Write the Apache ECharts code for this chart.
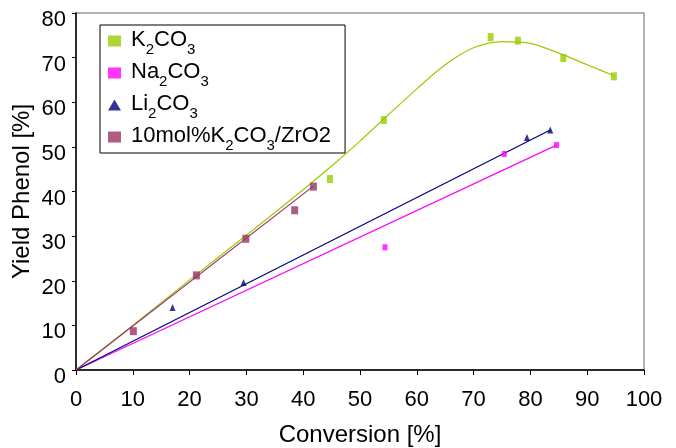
<!DOCTYPE html>
<html>
<head>
<meta charset="utf-8">
<script src="https://cdn.jsdelivr.net/npm/echarts@6/dist/echarts.min.js"></script>
<style>
  html, body { margin: 0; padding: 0; background: #fff; }
  #chart { width: 676px; height: 448px; }
</style>
</head>
<body>
<div id="chart"></div>
<script>
// measured points [conversion %, yield %]
const k2co3 = [[44.7, 42.8], [54.2, 56.0], [73.0, 74.6], [77.8, 73.8], [85.8, 69.9], [94.7, 65.8]];
const na2co3 = [[54.4, 27.5], [75.4, 48.4], [84.6, 50.4]];
const li2co3 = [[17.0, 14.0], [29.5, 19.6], [79.4, 52.1], [83.5, 53.8]];
const zro2 = [[10.1, 8.7], [21.2, 21.2], [29.9, 29.4], [38.5, 35.8], [41.8, 41.1]];

// trend lines
const k2co3Fit = [[0, 0], [10, 10], [20, 20.2], [30, 30.2], [40, 40.4], [45, 45.7], [50, 51.3],
  [55, 57.2], [60, 63], [65, 68.4], [70, 72.2], [75, 73.6], [80, 73.2], [85, 71], [90, 68.4], [94.6, 66]];
const na2co3Fit = [[0, 0], [84.6, 50.4]];
const li2co3Fit = [[0, 0], [83.5, 53.8]];
const zro2Fit = [[0, 0], [41.8, 41.2]];

const names = ['K2CO3', 'Na2CO3', 'Li2CO3', '10mol% K2CO3/ZrO2'];
const colors = ['#99cc00', '#ff00ff', '#000080', '#993366'];

const font = 'Liberation Sans, Arial, sans-serif';
const chart = echarts.init(document.getElementById('chart'));

function fitLine(data, color, smooth) {
  return {
    type: 'line', data: data, smooth: smooth, showSymbol: false, silent: true,
    lineStyle: { color: color, width: 1.2 }, z: 2
  };
}

chart.setOption({
  animation: false,
  textStyle: { fontFamily: font },
  grid: {
    left: 76, right: 32, top: 13, bottom: 78, containLabel: false, outerBoundsMode: 'none',
    show: true, borderColor: '#999', borderWidth: 1.5
  },
  legend: {
    orient: 'vertical', left: 100, top: 25,
    padding: [4, 14, 0, 8], itemGap: 4,
    itemWidth: 13, itemHeight: 11,
    borderColor: '#000', borderWidth: 1,
    data: [
      { name: names[0], icon: 'rect' },
      { name: names[1], icon: 'rect' },
      { name: names[2], icon: 'triangle' },
      { name: names[3], icon: 'rect' }
    ],
    formatter: function (n) {
      if (n === 'K2CO3') return '{f|K}{s|2}{n|CO}{s|3}';
      if (n === 'Na2CO3') return '{f|Na}{s|2}{n|CO}{s|3}';
      if (n === 'Li2CO3') return '{f|Li}{s|2}{n|CO}{s|3}';
      return '{f|10mol%}{n|K}{s|2}{n|CO}{s|3}{n|/ZrO2}';
    },
    textStyle: {
      color: '#000',
      rich: {
        f: { fontSize: 22, fontFamily: font, color: '#000', lineHeight: 24, verticalAlign: 'top', padding: [0, 0, 0, 5] },
        n: { fontSize: 22, fontFamily: font, color: '#000', lineHeight: 24, verticalAlign: 'top' },
        s: { fontSize: 15, fontFamily: font, color: '#000', lineHeight: 15, verticalAlign: 'top', padding: [13, 0, 0, 0] }
      }
    }
  },
  xAxis: {
    type: 'value', min: 0, max: 100, interval: 10,
    name: 'Conversion [%]', nameLocation: 'middle', nameGap: 53, nameMoveOverlap: false,
    nameTextStyle: { fontSize: 24, color: '#000', fontFamily: font },
    axisLine: { lineStyle: { color: '#000', width: 1.5 } },
    axisTick: { length: 5, lineStyle: { color: '#000' } },
    axisLabel: { fontSize: 22, color: '#000', margin: 19, fontFamily: font },
    splitLine: { show: false }
  },
  yAxis: {
    type: 'value', min: 0, max: 80, interval: 10,
    name: 'Yield Phenol [%]', nameLocation: 'middle', nameGap: 42, nameMoveOverlap: false,
    nameTextStyle: { fontSize: 24, color: '#000', fontFamily: font },
    axisLine: { show: true, lineStyle: { color: '#000', width: 1.5 } },
    axisTick: { show: true, length: 4, lineStyle: { color: '#000' } },
    axisLabel: { fontSize: 22, color: '#000', margin: 10, fontFamily: font, verticalAlign: 'top', lineHeight: 14 },
    splitLine: { show: false }
  },
  series: [
    fitLine(k2co3Fit, colors[0], 0.3),
    fitLine(na2co3Fit, colors[1], false),
    fitLine(li2co3Fit, colors[2], false),
    fitLine(zro2Fit, colors[3], false),
    { name: names[0], type: 'scatter', data: k2co3, symbol: 'rect', symbolSize: [6, 8], itemStyle: { color: colors[0] }, z: 3 },
    { name: names[1], type: 'scatter', data: na2co3, symbol: 'rect', symbolSize: [5, 6], itemStyle: { color: colors[1] }, z: 3 },
    { name: names[2], type: 'scatter', data: li2co3, symbol: 'triangle', symbolSize: [6, 7], itemStyle: { color: colors[2] }, z: 3 },
    { name: names[3], type: 'scatter', data: zro2, symbol: 'rect', symbolSize: [7, 8], itemStyle: { color: colors[3] }, z: 3 }
  ]
});
</script>
</body>
</html>
